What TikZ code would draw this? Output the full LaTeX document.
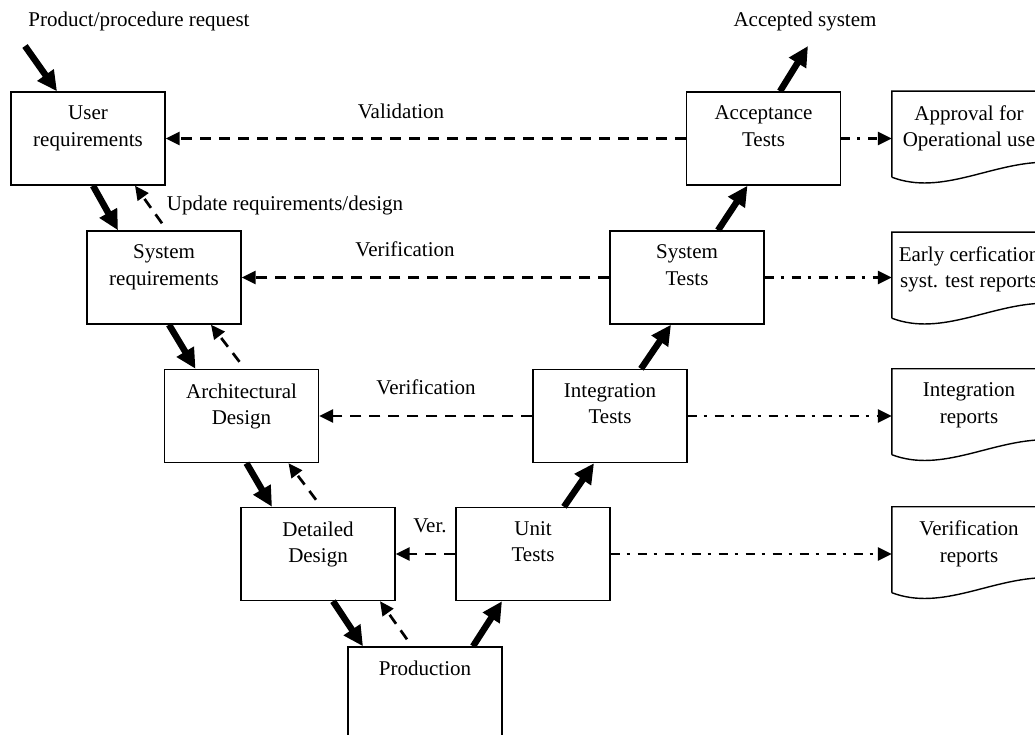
\documentclass[tikz,border=0pt]{standalone}
\usepackage{fontspec}
\setmainfont{Liberation Serif}
\usetikzlibrary{arrows.meta}

\tikzset{
    stage/.style={draw, line width=1.4pt, minimum width=154pt, minimum height=93pt, inner sep=0pt},
    report/.style={minimum width=154pt, minimum height=93pt, inner sep=0pt},
    intext/.style={align=center, anchor=north, inner sep=0pt, yshift=-14.5pt},
    flowarrow/.style={line width=6.5pt, -{Triangle[length=20pt,width=19pt]}},
    checkarrow/.style={line width=2.7pt, dash pattern=on 11pt off 8pt, -{Triangle[length=14pt,width=13pt]}},
    reportarrow/.style={line width=2.7pt, dash pattern=on 9pt off 7pt on 3pt off 8pt, -{Triangle[length=14pt,width=13pt]}},
}

\newcommand{\reportshape}[1]{%
    \draw[line width=1.4pt, shift={(#1.south west)}] (0,-7) -- (0,-93) -- (154,-93) -- (154,-22)
        .. controls (100,-22) and (50,12) .. (0,-7);}

\begin{document}
\begin{tikzpicture}[x=1pt, y=-1pt, font=\fontsize{21}{26.5}\selectfont]
    \useasboundingbox (0,0) rectangle (1035,735);
    \clip (0,0) rectangle (1035,735);

    \node[stage, label={[intext]north:{User\\requirements}}] (ureq) at (88,138.5) {};
    \node[stage, label={[intext]north:{System\\requirements}}] (sreq) at (164,277.5) {};
    \node[stage, label={[intext]north:{Architectural\\Design}}] (arch) at (241.5,416) {};
    \node[stage, label={[intext]north:{Detailed\\Design}}] (ddes) at (318,554) {};
    \node[stage, label={[intext]north:{Production}}] (prod) at (425,693.5) {};
    \node[stage, label={[intext]north:{Unit\\Tests}}] (unit) at (533,554) {};
    \node[stage, label={[intext]north:{Integration\\Tests}}] (integ) at (610,416) {};
    \node[stage, label={[intext]north:{System\\Tests}}] (syst) at (687,277.5) {};
    \node[stage, label={[intext]north:{Acceptance\\Tests}}] (acc) at (763.5,138.5) {};

    \node[report, label={[intext]north:{Approval for\\Operational use}}] (apr) at (969,137.5) {};
    \node[report, label={[intext]north:{Early cerfication\\syst. test reports}}] (early) at (969,278.5) {};
    \node[report, label={[intext]north:{Integration\\reports}}] (intrep) at (969,415) {};
    \node[report, label={[intext]north:{Verification\\reports}}] (verrep) at (969,553) {};
    \reportshape{apr}
    \reportshape{early}
    \reportshape{intrep}
    \reportshape{verrep}

    \node (request) at (139,21) {Product/procedure request};
    \node (accepted) at (805,21) {Accepted system};
    \node (update) at (285,205) {Update requirements/design};
    \node (val) at (401,111) {Validation};
    \node (ver1) at (405,249) {Verification};
    \node (ver2) at (426,387) {Verification};
    \node (ver3) at (430,526) {Ver.};

    \coordinate (reqin) at (25,46);
    \coordinate (accout) at (808,46);

    \draw[flowarrow] (reqin) -- ([xshift=-31pt]ureq.north);
    \draw[flowarrow] ([xshift=5pt]ureq.south) -- ([xshift=-46pt]sreq.north);
    \draw[flowarrow] ([xshift=5pt]sreq.south) -- ([xshift=-46pt]arch.north);
    \draw[flowarrow] ([xshift=5pt]arch.south) -- ([xshift=-46pt]ddes.north);
    \draw[flowarrow] ([xshift=15pt]ddes.south) -- ([xshift=-62pt]prod.north);
    \draw[flowarrow] ([xshift=48pt]prod.north) -- ([xshift=-31pt]unit.south);
    \draw[flowarrow] ([xshift=31pt]unit.north) -- ([xshift=-16pt]integ.south);
    \draw[flowarrow] ([xshift=31pt]integ.north) -- ([xshift=-16pt]syst.south);
    \draw[flowarrow] ([xshift=31pt]syst.north) -- ([xshift=-16pt]acc.south);
    \draw[flowarrow] ([xshift=16.5pt]acc.north) -- (accout);

    \draw[checkarrow] ([xshift=-2pt,yshift=7pt]sreq.north) -- ([xshift=47pt]ureq.south);
    \draw[checkarrow] ([xshift=-2pt,yshift=7pt]arch.north) -- ([xshift=47pt]sreq.south);
    \draw[checkarrow] ([xshift=-2pt,yshift=7pt]ddes.north) -- ([xshift=47pt]arch.south);
    \draw[checkarrow] ([xshift=-18pt,yshift=7pt]prod.north) -- ([xshift=62pt]ddes.south);

    \draw[checkarrow] (acc.west) -- (ureq.east);
    \draw[checkarrow] (syst.west) -- (sreq.east);
    \draw[checkarrow] (integ.west) -- (arch.east);
    \draw[checkarrow] (unit.west) -- (ddes.east);

    \draw[reportarrow] (acc.east) -- (acc.east -| apr.west);
    \draw[reportarrow] (syst.east) -- (syst.east -| early.west);
    \draw[reportarrow] (integ.east) -- (integ.east -| intrep.west);
    \draw[reportarrow] (unit.east) -- (unit.east -| verrep.west);
\end{tikzpicture}
\end{document}
